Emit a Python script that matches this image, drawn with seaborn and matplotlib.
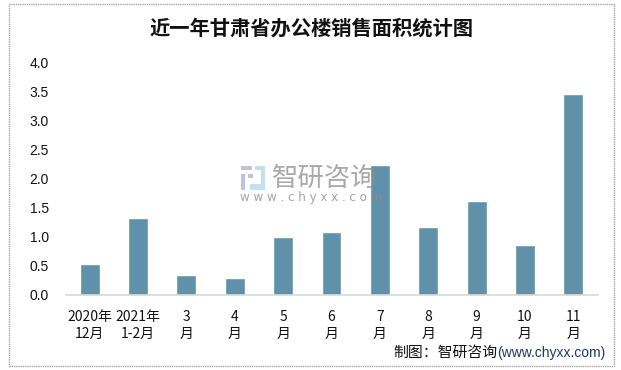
import matplotlib
matplotlib.use('Agg')
import matplotlib.pyplot as plt
from matplotlib.patches import Rectangle
import pandas as pd
import seaborn as sns

# sales area by month
months = ['2020年\n12月', '2021年\n1-2月', '3\n月', '4\n月', '5\n月', '6\n月',
          '7\n月', '8\n月', '9\n月', '10\n月', '11\n月']
values = [0.54, 1.33, 0.35, 0.30, 0.99, 1.09, 2.23, 1.16, 1.61, 0.85, 3.45]
y_ticks = [0.0, 0.5, 1.0, 1.5, 2.0, 2.5, 3.0, 3.5, 4.0]

W, H = 621, 370

sns.set_theme(style='white')
plt.rcParams['font.family'] = ['Noto Sans CJK SC', 'DejaVu Sans']

df = pd.DataFrame({'month': months, 'value': values})

fig = plt.figure(figsize=(W / 100, H / 100), dpi=100, facecolor='white')
ax = fig.add_axes([65.5 / W, 1 - 295 / H, 532 / W, 233 / H])

sns.barplot(data=df, x='month', y='value', color='#5f92aa', saturation=1, width=0.41, ax=ax)

ax.set_ylim(0, 4)
ax.set_xlim(-0.5, len(months) - 0.5)
ax.set_yticks(y_ticks)
ax.set_yticklabels([f'{v:.1f}' for v in y_ticks], fontsize=10, color='#111111',
                   family=['Liberation Sans', 'DejaVu Sans'])
ax.set_xlabel('')
ax.set_ylabel('')
ax.tick_params(axis='x', length=0, pad=10.5, labelsize=10, labelcolor='#111111')
ax.tick_params(axis='y', length=0, pad=12)
for lab in ax.get_xticklabels():
    lab.set_linespacing(1.3)
sns.despine(ax=ax, left=True, top=True, right=True)
ax.spines['bottom'].set_color('#d9d9d9')
ax.spines['bottom'].set_linewidth(1.2)

# outer frame
fig.add_artist(Rectangle((8.5 / W, 1 - 366 / H), 605 / W, 362 / H, transform=fig.transFigure,
                         fill=False, edgecolor='#a6a6a6', linewidth=1, linestyle=(0, (1, 0.6))))

fig.text(311.5 / W, 1 - 28 / H, '近一年甘肃省办公楼销售面积统计图', fontsize=14.6, fontweight='bold',
         color='#111111', ha='center', va='center')

# watermark logo + text
for (x, y, w, h, c) in [(241, 166, 11, 4, '#bcc5dc'), (241, 174, 4, 16, '#bcc5dc'),
                        (248, 174, 5, 4, '#bcc5dc'), (255, 166, 10, 4, '#c3e0f2'),
                        (261, 170, 4, 20, '#c3e0f2'), (250, 184, 11, 6, '#c3e0f2')]:
    fig.add_artist(Rectangle((x / W, 1 - (y + h) / H), w / W, h / H, transform=fig.transFigure,
                             facecolor=c, edgecolor='none', zorder=5))
fig.text(272 / W, 1 - 178 / H, '智研咨询', fontsize=19, color='#8c8c8c', alpha=0.75,
         ha='left', va='center', zorder=6)
fig.text(240 / W, 1 - 197 / H, 'w w w . c h y x x . c o m', fontsize=8.6, color='#8c8c8c', alpha=0.8,
         ha='left', va='center', zorder=6, family=['DejaVu Sans'])

# source line
fig.text(393 / W, 1 - 353 / H, '制图：智研咨询', fontsize=10.7, color='#111111', ha='left', va='center')
fig.text(497 / W, 1 - 353 / H, '(www.chyxx.com)', fontsize=10, color='#1f3864', ha='left', va='center',
         family=['Liberation Sans', 'DejaVu Sans'])

fig.savefig('out.png', dpi=100)
